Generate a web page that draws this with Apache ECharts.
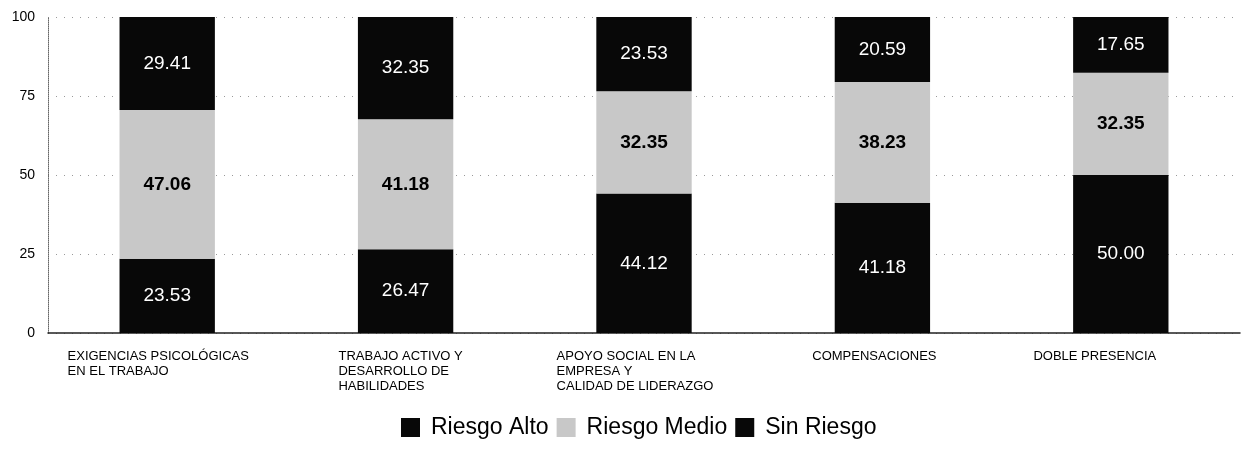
<!DOCTYPE html>
<html>
<head>
<meta charset="utf-8">
<script src="https://cdn.jsdelivr.net/npm/echarts@6/dist/echarts.min.js"></script>
<style>html,body{margin:0;padding:0;background:#fff;}#c{width:1244px;height:450px;}</style>
</head>
<body>
<div id="c"></div>
<script>
const categories = [
  'EXIGENCIAS PSICOLÓGICAS\nEN EL TRABAJO',
  'TRABAJO ACTIVO Y\nDESARROLLO DE\nHABILIDADES',
  'APOYO SOCIAL EN LA\nEMPRESA Y\nCALIDAD DE LIDERAZGO',
  'COMPENSACIONES',
  'DOBLE PRESENCIA'
];
const seriesNames = ['Riesgo Alto', 'Riesgo Medio', 'Sin Riesgo'];
const riesgoAlto = [23.53, 26.47, 44.12, 41.18, 50.00];
const riesgoMedio = [47.06, 41.18, 32.35, 38.23, 32.35];
const sinRiesgo = [29.41, 32.35, 23.53, 20.59, 17.65];
const yTicks = [0, 25, 50, 75, 100];

// layout-only: horizontal nudge (px, leftwards) of each category label block
const labelNudge = [18, 10, 18, 16, 52];

const chart = echarts.init(document.getElementById('c'));
const fontFam = 'Liberation Sans, Arial, sans-serif';
function mk(name, data, color, labelColor, bold) {
  return {
    name: name, type: 'bar', stack: 'total', data: data, barWidth: '40%',
    itemStyle: { color: color },
    label: {
      show: true, position: 'inside',
      formatter: p => p.value.toFixed(2),
      color: labelColor, fontSize: 19, fontFamily: fontFam,
      fontWeight: bold ? 'bold' : 'normal'
    }
  };
}
chart.setOption({
  animation: false,
  backgroundColor: '#fff',
  grid: { left: 48, right: 4, top: 17, bottom: 117, containLabel: false },
  legend: {
    bottom: 6, left: 396,
    itemWidth: 19, itemHeight: 19, itemGap: 8,
    icon: 'rect',
    textStyle: { fontSize: 23, color: '#000', fontFamily: fontFam, padding: [0, 0, 0, 6] },
    data: seriesNames
  },
  xAxis: {
    type: 'category',
    data: categories.map((c, i) => ({ value: c, textStyle: { padding: [0, labelNudge[i], 0, 0] } })),
    axisLine: { lineStyle: { color: '#222', width: 1.5 } },
    axisTick: { show: false },
    axisLabel: {
      interval: 0, margin: 16, color: '#000',
      formatter: v => v.split('\n').map(l => '{a|' + l + '}').join('\n'),
      rich: { a: { align: 'left', fontSize: 13, lineHeight: 15, fontFamily: fontFam, color: '#000' } }
    }
  },
  yAxis: {
    type: 'value', min: yTicks[0], max: yTicks[yTicks.length - 1], interval: 25,
    axisLine: { show: true, lineStyle: { color: '#666', type: 'dotted' } },
    axisTick: { show: false },
    axisLabel: { color: '#000', fontSize: 14, margin: 13, fontFamily: fontFam },
    splitLine: { lineStyle: { color: '#999', type: [1, 7] } }
  },
  series: [
    mk(seriesNames[0], riesgoAlto, '#080808', '#fff', false),
    mk(seriesNames[1], riesgoMedio, '#c8c8c8', '#000', true),
    mk(seriesNames[2], sinRiesgo, '#080808', '#fff', false)
  ]
});
</script>
</body>
</html>
